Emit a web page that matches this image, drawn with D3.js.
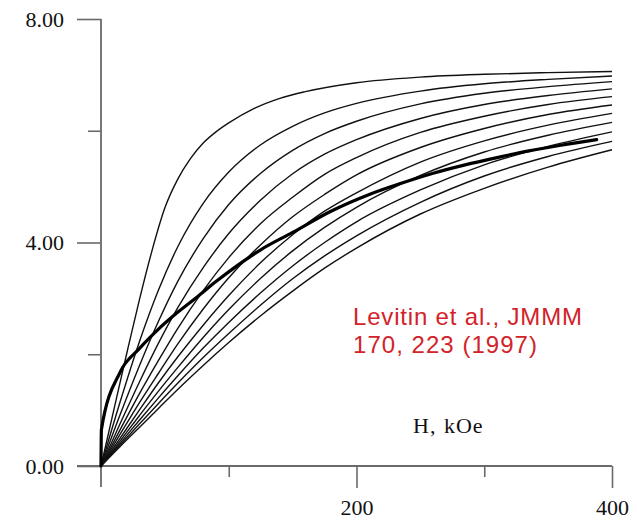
<!DOCTYPE html>
<html>
<head>
<meta charset="utf-8">
<script src="https://cdn.jsdelivr.net/npm/d3@7"></script>
<style>
  html, body { margin: 0; padding: 0; background: #fff; }
  svg { display: block; }
</style>
</head>
<body>
<svg id="chart" width="637" height="520"></svg>
<script>
// Magnetization M (μB) versus field H (kOe): calculated isotherms and measured curve
const fieldKOe = [0, 15, 30, 45, 60, 80, 100, 125, 150, 175, 200, 250, 300, 350, 400];

// Lowest-temperature isotherm, read on its own finer grid
const iso1Field = [0, 10, 20, 30, 40, 50, 60, 70, 80, 90, 100, 120, 140, 160, 200, 250, 300, 350, 400];
const iso1      = [0, 1.00, 2.00, 2.97, 3.86, 4.62, 5.13, 5.50, 5.78, 5.98, 6.14, 6.40, 6.58, 6.70, 6.86, 6.96, 7.01, 7.04, 7.06];

const iso2  = [0, 1.15, 2.22, 3.15, 3.92, 4.70, 5.26, 5.75, 6.08, 6.32, 6.49, 6.71, 6.84, 6.92, 6.98];
const iso3  = [0, 0.92, 1.79, 2.59, 3.30, 4.07, 4.68, 5.24, 5.65, 5.95, 6.17, 6.48, 6.67, 6.79, 6.88];
const iso4  = [0, 0.76, 1.50, 2.20, 2.83, 3.55, 4.16, 4.76, 5.23, 5.58, 5.84, 6.22, 6.47, 6.63, 6.75];
const iso5  = [0, 0.65, 1.29, 1.89, 2.46, 3.14, 3.73, 4.34, 4.81, 5.22, 5.52, 5.97, 6.26, 6.47, 6.61];
const iso6  = [0, 0.57, 1.13, 1.66, 2.18, 2.81, 3.37, 3.96, 4.46, 4.86, 5.21, 5.70, 6.04, 6.29, 6.46];
const iso7  = [0, 0.50, 1.00, 1.49, 1.95, 2.52, 3.05, 3.64, 4.14, 4.56, 4.89, 5.44, 5.82, 6.10, 6.31];
const iso8  = [0, 0.45, 0.90, 1.34, 1.76, 2.30, 2.80, 3.36, 3.85, 4.27, 4.63, 5.20, 5.62, 5.92, 6.15];
const iso9  = [0, 0.41, 0.82, 1.22, 1.61, 2.11, 2.57, 3.10, 3.58, 4.00, 4.37, 4.94, 5.39, 5.72, 5.98];
const iso10 = [0, 0.38, 0.75, 1.12, 1.48, 1.94, 2.37, 2.88, 3.35, 3.76, 4.12, 4.72, 5.19, 5.54, 5.81];
const iso11 = [0, 0.35, 0.69, 1.03, 1.37, 1.80, 2.21, 2.69, 3.13, 3.54, 3.90, 4.51, 4.97, 5.35, 5.66];

// Measured curve (heavy line)
const measField = [0, 0.3, 15, 30, 45, 60, 75, 90, 105, 125, 150, 180, 210, 235, 260, 285, 310, 335, 360, 388];
const measM     = [0, 0.65, 1.68, 2.10, 2.45, 2.75, 3.02, 3.30, 3.56, 3.87, 4.18, 4.56, 4.86, 5.06, 5.24, 5.39, 5.52, 5.64, 5.74, 5.84];

// Axis ticks
const xTicks = [100, 200, 300, 400];
const xLabelTicks = [200, 400];
const yTicks = [0, 2, 4, 6, 8];
const yLabelTicks = [0, 4, 8];

const citation = ["Levitin et al., JMMM", "170, 223 (1997)"];
const xTitle = "H, kOe";

const isoSeries = [
  iso1Field.map((h, i) => [h, iso1[i]]),
  ...[iso2, iso3, iso4, iso5, iso6, iso7, iso8, iso9, iso10, iso11]
    .map(vals => fieldKOe.map((h, i) => [h, vals[i]]))
];

const svg = d3.select("#chart");
const x = d3.scaleLinear().domain([0, 400]).range([101, 612]);
const y = d3.scaleLinear().domain([0, 8]).range([466, 19]);

const axisColor = "#6a6a6a";
const serif = "'Liberation Serif', 'Times New Roman', serif";

// Y axis: long ticks at labelled values, short ticks between
const yAxis = d3.axisLeft(y)
  .tickValues(yTicks)
  .tickSize(0)
  .tickFormat(d => yLabelTicks.includes(d) ? d3.format(".2f")(d) : "");
const gy = svg.append("g").attr("transform", `translate(${x(0)},0)`).call(yAxis);
gy.select(".domain").remove();
gy.selectAll(".tick line")
  .attr("x2", d => yLabelTicks.includes(d) ? -24 : -13)
  .attr("stroke", axisColor).attr("stroke-width", 1.6);
gy.selectAll(".tick text")
  .attr("x", -37).attr("dy", "0.34em")
  .attr("fill", "#111")
  .style("font-family", serif).style("font-size", "22px");
svg.append("line")
  .attr("x1", x(0)).attr("x2", x(0))
  .attr("y1", y(8)).attr("y2", y(0) + 21)
  .attr("stroke", axisColor).attr("stroke-width", 1.8);

// X axis: ticks hang below the baseline
const xAxis = d3.axisBottom(x)
  .tickValues(xTicks)
  .tickSize(0)
  .tickFormat(d => xLabelTicks.includes(d) ? String(d) : "");
const gx = svg.append("g").attr("transform", `translate(0,${y(0)})`).call(xAxis);
gx.select(".domain").remove();
gx.selectAll(".tick line")
  .attr("y2", d => xLabelTicks.includes(d) ? 22 : 11)
  .attr("stroke", axisColor).attr("stroke-width", 1.6);
gx.selectAll(".tick text")
  .attr("y", 49).attr("dy", 0)
  .attr("fill", "#111")
  .style("font-family", serif).style("font-size", "22px");
svg.append("line")
  .attr("x1", x(0) - 24).attr("x2", x(400))
  .attr("y1", y(0)).attr("y2", y(0))
  .attr("stroke", axisColor).attr("stroke-width", 1.8);

// Isotherms
const line = d3.line()
  .x(d => x(d[0]))
  .y(d => y(d[1]))
  .curve(d3.curveMonotoneX);

svg.append("g")
  .selectAll("path")
  .data(isoSeries)
  .join("path")
  .attr("d", line)
  .attr("fill", "none")
  .attr("stroke", "#111")
  .attr("stroke-width", 1.4);

// Measured curve
svg.append("path")
  .attr("d", line(measField.map((h, i) => [h, measM[i]])))
  .attr("fill", "none")
  .attr("stroke", "#000")
  .attr("stroke-width", 3.2)
  .attr("stroke-linejoin", "round")
  .attr("stroke-linecap", "round");

// Axis title
svg.append("text")
  .attr("x", 413).attr("y", 433)
  .attr("fill", "#111")
  .style("font-family", serif).style("font-size", "22px")
  .style("letter-spacing", "1px").style("word-spacing", "1px")
  .text(xTitle);

// Citation
const citeWidths = [229, 184];
svg.append("text")
  .attr("fill", "#d2232a")
  .style("font-family", "'Liberation Sans', Arial, sans-serif")
  .style("font-size", "24px")
  .selectAll("tspan")
  .data(citation)
  .join("tspan")
  .attr("x", 353)
  .attr("y", (d, i) => 325 + i * 28)
  .attr("textLength", (d, i) => citeWidths[i])
  .attr("lengthAdjust", "spacing")
  .text(d => d);
</script>
</body>
</html>
